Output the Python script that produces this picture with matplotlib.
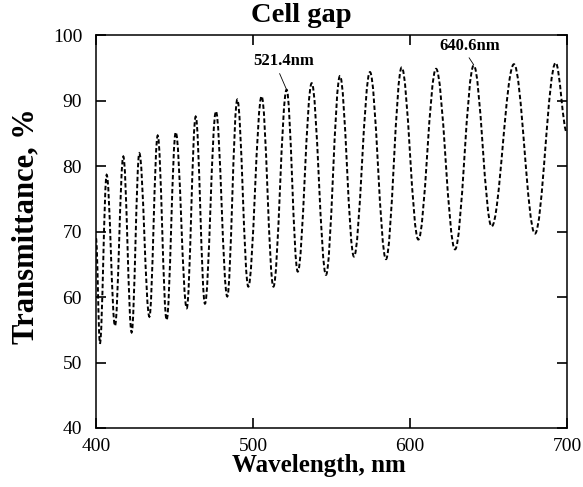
import matplotlib
matplotlib.use("Agg")
import matplotlib.pyplot as plt
from matplotlib.path import Path
from matplotlib.patches import PathPatch

# Extrema of the transmittance spectrum (start, valleys/peaks, end)
wavelength = [400.0, 402.5, 406.8, 412.1, 417.4, 422.7, 427.6, 434.0, 439.3, 445.0,
              450.8, 457.8, 463.5, 469.4, 476.4, 483.6, 490.0, 497.0, 505.5, 513.0,
              521.4, 528.5, 537.4, 546.5, 555.4, 564.3, 574.5, 584.7, 594.7, 605.3,
              616.6, 628.7, 640.6, 652.0, 666.2, 679.6, 692.8, 700.0]
transmittance = [69.0, 52.9, 78.7, 55.6, 81.5, 54.6, 82.0, 57.0, 84.7, 56.5,
                 85.2, 58.3, 87.6, 59.0, 88.4, 60.1, 90.2, 61.6, 90.7, 61.6,
                 91.7, 63.9, 92.7, 63.4, 93.8, 66.2, 94.4, 65.8, 95.1, 68.8,
                 94.9, 67.3, 95.4, 70.8, 95.6, 69.7, 95.8, 85.1]

x_ticks = [400, 500, 600, 700]
y_ticks = [40, 50, 60, 70, 80, 90, 100]

title = "Cell gap"
x_label = "Wavelength, nm"
y_label = "Transmittance, %"
annot_labels = ["521.4nm", "640.6nm"]
annot_points = [(521.4, 91.7), (640.6, 95.5)]

plt.rcParams['font.family'] = ['Liberation Serif', 'DejaVu Serif']

fig = plt.figure(figsize=(5.83, 4.87), dpi=100)
ax = fig.add_axes([96 / 583, 1 - 428 / 487, 471 / 583, 392.6 / 487])

# Smooth curve through the extrema (cubic Bezier segments with flat tangents)
k = 0.364
verts = [(wavelength[0], transmittance[0])]
codes = [Path.MOVETO]
for i in range(len(wavelength) - 1):
    x0, y0 = wavelength[i], transmittance[i]
    x1, y1 = wavelength[i + 1], transmittance[i + 1]
    dx = x1 - x0
    verts += [(x0 + k * dx, y0), (x1 - k * dx, y1), (x1, y1)]
    codes += [Path.CURVE4] * 3
patch = PathPatch(Path(verts, codes), fill=False, edgecolor='black',
                  lw=1.4, linestyle=(0, (2.3, 1.3)))
ax.add_patch(patch)

ax.set_xlim(400, 700)
ax.set_ylim(40, 100)
ax.set_xticks(x_ticks)
ax.set_yticks(y_ticks)
ax.tick_params(direction='in', length=7, width=1.2, top=True, right=True,
               labelsize=14, colors='black')
ax.tick_params(axis='y', pad=10)
ax.tick_params(axis='x', pad=7)
for s in ax.spines.values():
    s.set_linewidth(1.1)

ax.set_title(title, fontsize=20.5, fontweight='bold', x=0.435, y=1.034, pad=0)
ax.set_xlabel(x_label, fontsize=18, fontweight='bold')
ax.xaxis.set_label_coords(0.473, -0.112)
ax.xaxis.label.set_verticalalignment('baseline')
ax.set_ylabel(y_label, fontsize=22, fontweight='bold')
ax.yaxis.set_label_coords(-0.117, 0.513)

ax.annotate(annot_labels[0], xy=annot_points[0], xytext=(519.7, 95.4),
            ha='center', va='baseline', fontsize=12, fontweight='bold',
            arrowprops=dict(arrowstyle='-', lw=0.6, color='black',
                            shrinkA=1, shrinkB=0, relpos=(0.4, 0)))
ax.annotate(annot_labels[1], xy=annot_points[1], xytext=(637.9, 97.8),
            ha='center', va='baseline', fontsize=12, fontweight='bold',
            arrowprops=dict(arrowstyle='-', lw=0.6, color='black',
                            shrinkA=1, shrinkB=0, relpos=(0.45, 0)))

fig.savefig("out.png", dpi=100)
